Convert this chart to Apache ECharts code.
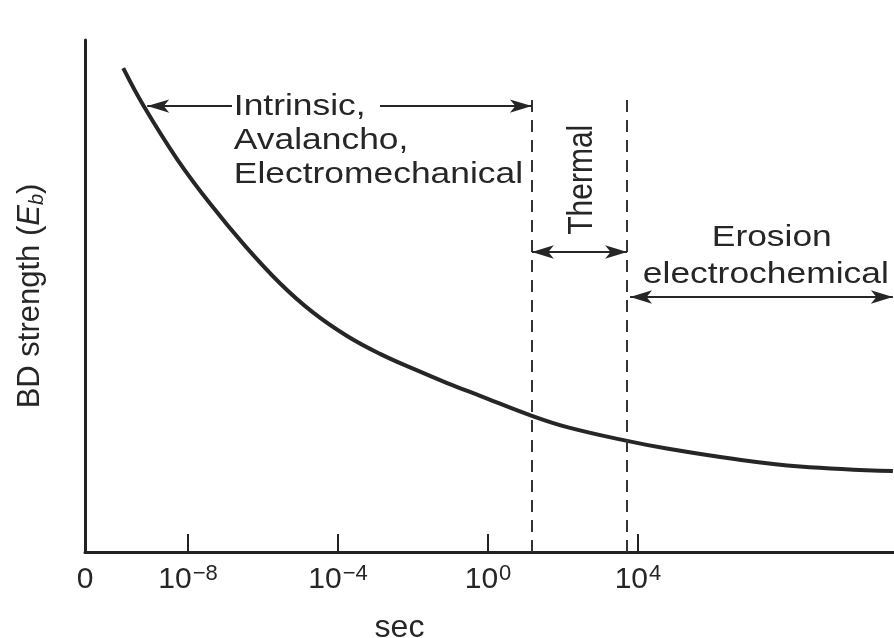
<!DOCTYPE html>
<html>
<head>
<meta charset="utf-8">
<script src="https://cdn.jsdelivr.net/npm/echarts@6/dist/echarts.min.js"></script>
<style>
html,body{margin:0;padding:0;background:#fff;}
#chart{width:894px;height:638px;}
</style>
</head>
<body>
<div id="chart"></div>
<script>
// x values are log10(seconds); y is relative breakdown strength (schematic, 0..100)
const curveX = [-9.73, -9.2, -8.29, -7.41, -6.48, -5.55, -4.67, -3.76, -2.88, -2.0, -1.09, -0.21, 1.17, 2.11, 3.71, 4.77, 6.53, 8.32, 10.8];
const curveY = [94.5, 87.3, 76.7, 68.0, 59.8, 52.5, 46.8, 42.2, 38.7, 35.8, 33.0, 30.5, 26.6, 24.4, 21.7, 20.2, 18.2, 16.7, 15.8];

const xMin = -10.75;
const xMax = 10.83;
const tickExponents = [-8, -4, 0, 4];
const tickLabels = ['\u22128', '\u22124', '0', '4'];
const originLabel = '0';

// regime boundaries (log10 s)
const boundaries = [1.17, 3.71];
const boundaryTop = 89.5;

// arrows: [x1, y1, x2, y2, arrowAtStart, arrowAtEnd]
const arrows = [
  [-9.09, 87.1, -6.83, 87.1, true, false],
  [-2.88, 87.1, 1.17, 87.1, false, true],
  [1.17, 58.6, 3.71, 58.6, true, true],
  [3.79, 49.8, 10.8, 49.8, true, true]
];

// annotation texts
const annoText = ['Intrinsic,\nAvalancho,\nElectromechanical', 'Thermal', 'Erosion', 'electrochemical'];
const annoX = [-6.78, 2.51, 7.57, 4.13];
const annoY = [80.3, 72.7, 61.4, 54.1];

const FONT = '"Liberation Sans", Arial, Helvetica, sans-serif';
const INK = '#262626';

const chart = echarts.init(document.getElementById('chart'), null, {renderer: 'canvas'});

const annoStyle = [
  {align: 'left', verticalAlign: 'middle', rotation: 0, sx: 1.18, sy: 1},
  {align: 'center', verticalAlign: 'middle', rotation: Math.PI / 2, sx: 1, sy: 1.15},
  {align: 'center', verticalAlign: 'middle', rotation: 0, sx: 1.18, sy: 1},
  {align: 'left', verticalAlign: 'middle', rotation: 0, sx: 1.18, sy: 1}
];

const markLineData = [];
boundaries.forEach(b => {
  markLineData.push([
    {coord: [b, 0], symbol: 'none', lineStyle: {type: [12, 8], width: 2, color: '#333'}},
    {coord: [b, boundaryTop], symbol: 'none'}
  ]);
});
arrows.forEach(a => {
  markLineData.push([
    {coord: [a[0], a[1]], symbol: a[4] ? 'arrow' : 'none', lineStyle: {type: 'solid', width: 2, color: INK}},
    {coord: [a[2], a[3]], symbol: a[5] ? 'arrow' : 'none'}
  ]);
});

const option = {
  backgroundColor: '#ffffff',
  animation: false,
  grid: {left: 85, right: 0, top: 40, bottom: 86, containLabel: false, outerBoundsMode: 'none'},
  xAxis: {
    type: 'value',
    min: xMin,
    max: xMax,
    name: 'sec',
    nameLocation: 'middle',
    nameGap: 60,
    nameTextStyle: {fontFamily: FONT, fontSize: 32, color: INK, padding: [0, 180, 0, 0]},
    axisLine: {show: true, onZero: false, lineStyle: {color: '#222', width: 3}},
    axisTick: {show: true, inside: true, length: 18, customValues: tickExponents, lineStyle: {color: '#222', width: 2}},
    splitLine: {show: false},
    axisLabel: {
      show: true,
      margin: 11,
      customValues: [xMin].concat(tickExponents),
      showMinLabel: true,
      showMaxLabel: true,
      formatter: function (v) {
        if (Math.abs(v - xMin) < 1e-6) return '{b|' + originLabel + '}';
        const i = tickExponents.indexOf(Math.round(v));
        return '{b|10}{s|' + tickLabels[i] + '}';
      },
      rich: {
        b: {fontFamily: FONT, fontSize: 30, color: INK, lineHeight: 34, verticalAlign: 'middle'},
        s: {fontFamily: FONT, fontSize: 22, color: INK, lineHeight: 34, verticalAlign: 'top', padding: [0, 0, 0, 1]}
      }
    }
  },
  yAxis: {
    type: 'value',
    min: 0,
    max: 100,
    name: '{n|BD strength (}{i|E}{sub|b}{n|)}',
    nameLocation: 'middle',
    nameGap: 38,
    nameRotate: 90,
    nameTextStyle: {
      rich: {
        n: {fontFamily: FONT, fontSize: 31, color: INK, lineHeight: 34},
        i: {fontFamily: FONT, fontSize: 31, fontStyle: 'italic', color: INK, lineHeight: 34},
        sub: {fontFamily: FONT, fontSize: 20, fontStyle: 'italic', color: INK, lineHeight: 34, verticalAlign: 'bottom'}
      }
    },
    axisLine: {show: true, onZero: false, lineStyle: {color: '#222', width: 3}},
    axisTick: {show: false},
    axisLabel: {show: false},
    splitLine: {show: false}
  },
  series: [
    {
      type: 'line',
      data: curveX.map((x, i) => [x, curveY[i]]),
      smooth: 0.4,
      showSymbol: false,
      symbol: 'none',
      clip: false,
      lineStyle: {color: '#262626', width: 4},
      markLine: {
        silent: true,
        symbolSize: [10, 22],
        label: {show: false},
        emphasis: {disabled: true},
        data: markLineData
      },
      z: 3
    },
    {
      type: 'custom',
      silent: true,
      clip: false,
      data: annoX.map((x, i) => [x, annoY[i], i]),
      renderItem: function (params, api) {
        const i = api.value(2);
        const p = api.coord([api.value(0), api.value(1)]);
        const st = annoStyle[i];
        return {
          type: 'text',
          x: p[0],
          y: p[1],
          rotation: st.rotation,
          scaleX: st.sx,
          scaleY: st.sy,
          style: {
            text: annoText[i],
            fontFamily: FONT,
            fontSize: 30,
            lineHeight: 34,
            fill: INK,
            align: st.align,
            verticalAlign: st.verticalAlign
          }
        };
      },
      z: 4
    }
  ]
};
chart.setOption(option);
</script>
</body>
</html>
